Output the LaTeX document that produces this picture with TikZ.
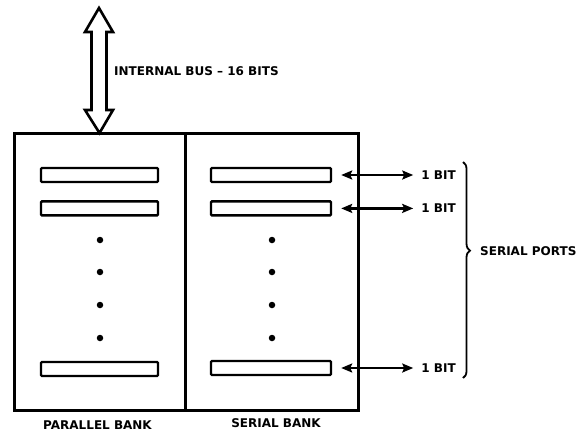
\documentclass[tikz,border=0pt]{standalone}
\usepackage{fontspec}
\setmainfont{DejaVu Sans}
\usepackage{tikz}
\usetikzlibrary{arrows, arrows.meta, positioning, calc, decorations.pathreplacing}
\tikzstyle{bank} = [rectangle, draw=black, line width=3pt, minimum height=277pt, inner sep=0pt, outer sep=0pt]
\tikzstyle{register} = [rectangle, draw=black, line width=2.4pt, minimum height=14pt, rounded corners=1pt, inner sep=0pt]
\tikzstyle{port} = [{Stealth[length=11pt,width=9pt,inset=2pt]}-{Stealth[length=11pt,width=9pt,inset=2pt]},line width=2.2pt]
\tikzstyle{lbl} = [font=\fontsize{12}{14}\selectfont\bfseries, inner sep=0pt]
\tikzstyle{dot} = [circle, fill=black, inner sep=0pt, minimum size=6.5pt]

\begin{document}
\begin{tikzpicture}[x=1pt, y=-1pt]
        \useasboundingbox (0,0) rectangle (577,434);

        % Banks
        \node [bank, minimum width=171pt] (pbank) at (99.5,271.5) {};
        \node [bank, minimum width=173pt, anchor=west] (sbank) at (pbank.east) {};
        \node [lbl, below=11pt of pbank.south, xshift=-2pt] (ptitle) {PARALLEL BANK};
        \node [lbl, below=8pt of sbank.south, xshift=4.5pt] (stitle) {SERIAL BANK};

        % Registers
        \node [register, minimum width=117pt] (preg1) at (99.5,175) {};
        \node [register, minimum width=117pt, below=17pt of preg1] (preg2) {};
        \node [register, minimum width=117pt] (preg3) at (99.5,369) {};
        \node [register, minimum width=120pt] (sreg1) at (271,175) {};
        \node [register, minimum width=120pt, below=17pt of sreg1] (sreg2) {};
        \node [register, minimum width=120pt] (sreg3) at (271,368) {};

        \foreach \y in {240,272,305,338} {
            \node [dot] (pdot\y) at (100,\y) {};
            \node [dot] (sdot\y) at (272,\y) {};
        }

        % Internal bus
        \coordinate (bustop) at (99,8);
        \draw [line width=2.6pt, line join=miter] (bustop) -- ($(bustop)+(14,24)$) -- ($(bustop)+(7.5,24)$)
            -- ($(pbank.north)+(7,-23)$) -- ($(pbank.north)+(13.5,-23)$) -- (pbank.north)
            -- ($(pbank.north)+(-14.5,-23)$) -- ($(pbank.north)+(-8,-23)$)
            -- ($(bustop)+(-7.5,24)$) -- ($(bustop)+(-14,24)$) -- cycle;
        \node [lbl, anchor=west] (bus) at (114,71) {INTERNAL BUS -- 16 BITS};

        % Serial ports
        \foreach \i in {1,2,3} {
            \coordinate (port\i) at ($(sreg\i.east)+(81,0)$);
            \draw [port] ($(sreg\i.east)+(9,0)$) -- (port\i);
            \node [lbl, right=8pt of port\i] (bit\i) {1 BIT};
        }

        \coordinate (bracetop) at (463,162);
        \coordinate (bracebot) at (463,378);
        \draw [decorate, decoration={brace, amplitude=7pt, aspect=0.41}, line width=1.8pt] (bracetop) -- (bracebot);
        \node [lbl, anchor=west] (ports) at (480,251) {SERIAL PORTS};
    \end{tikzpicture}
\end{document}
